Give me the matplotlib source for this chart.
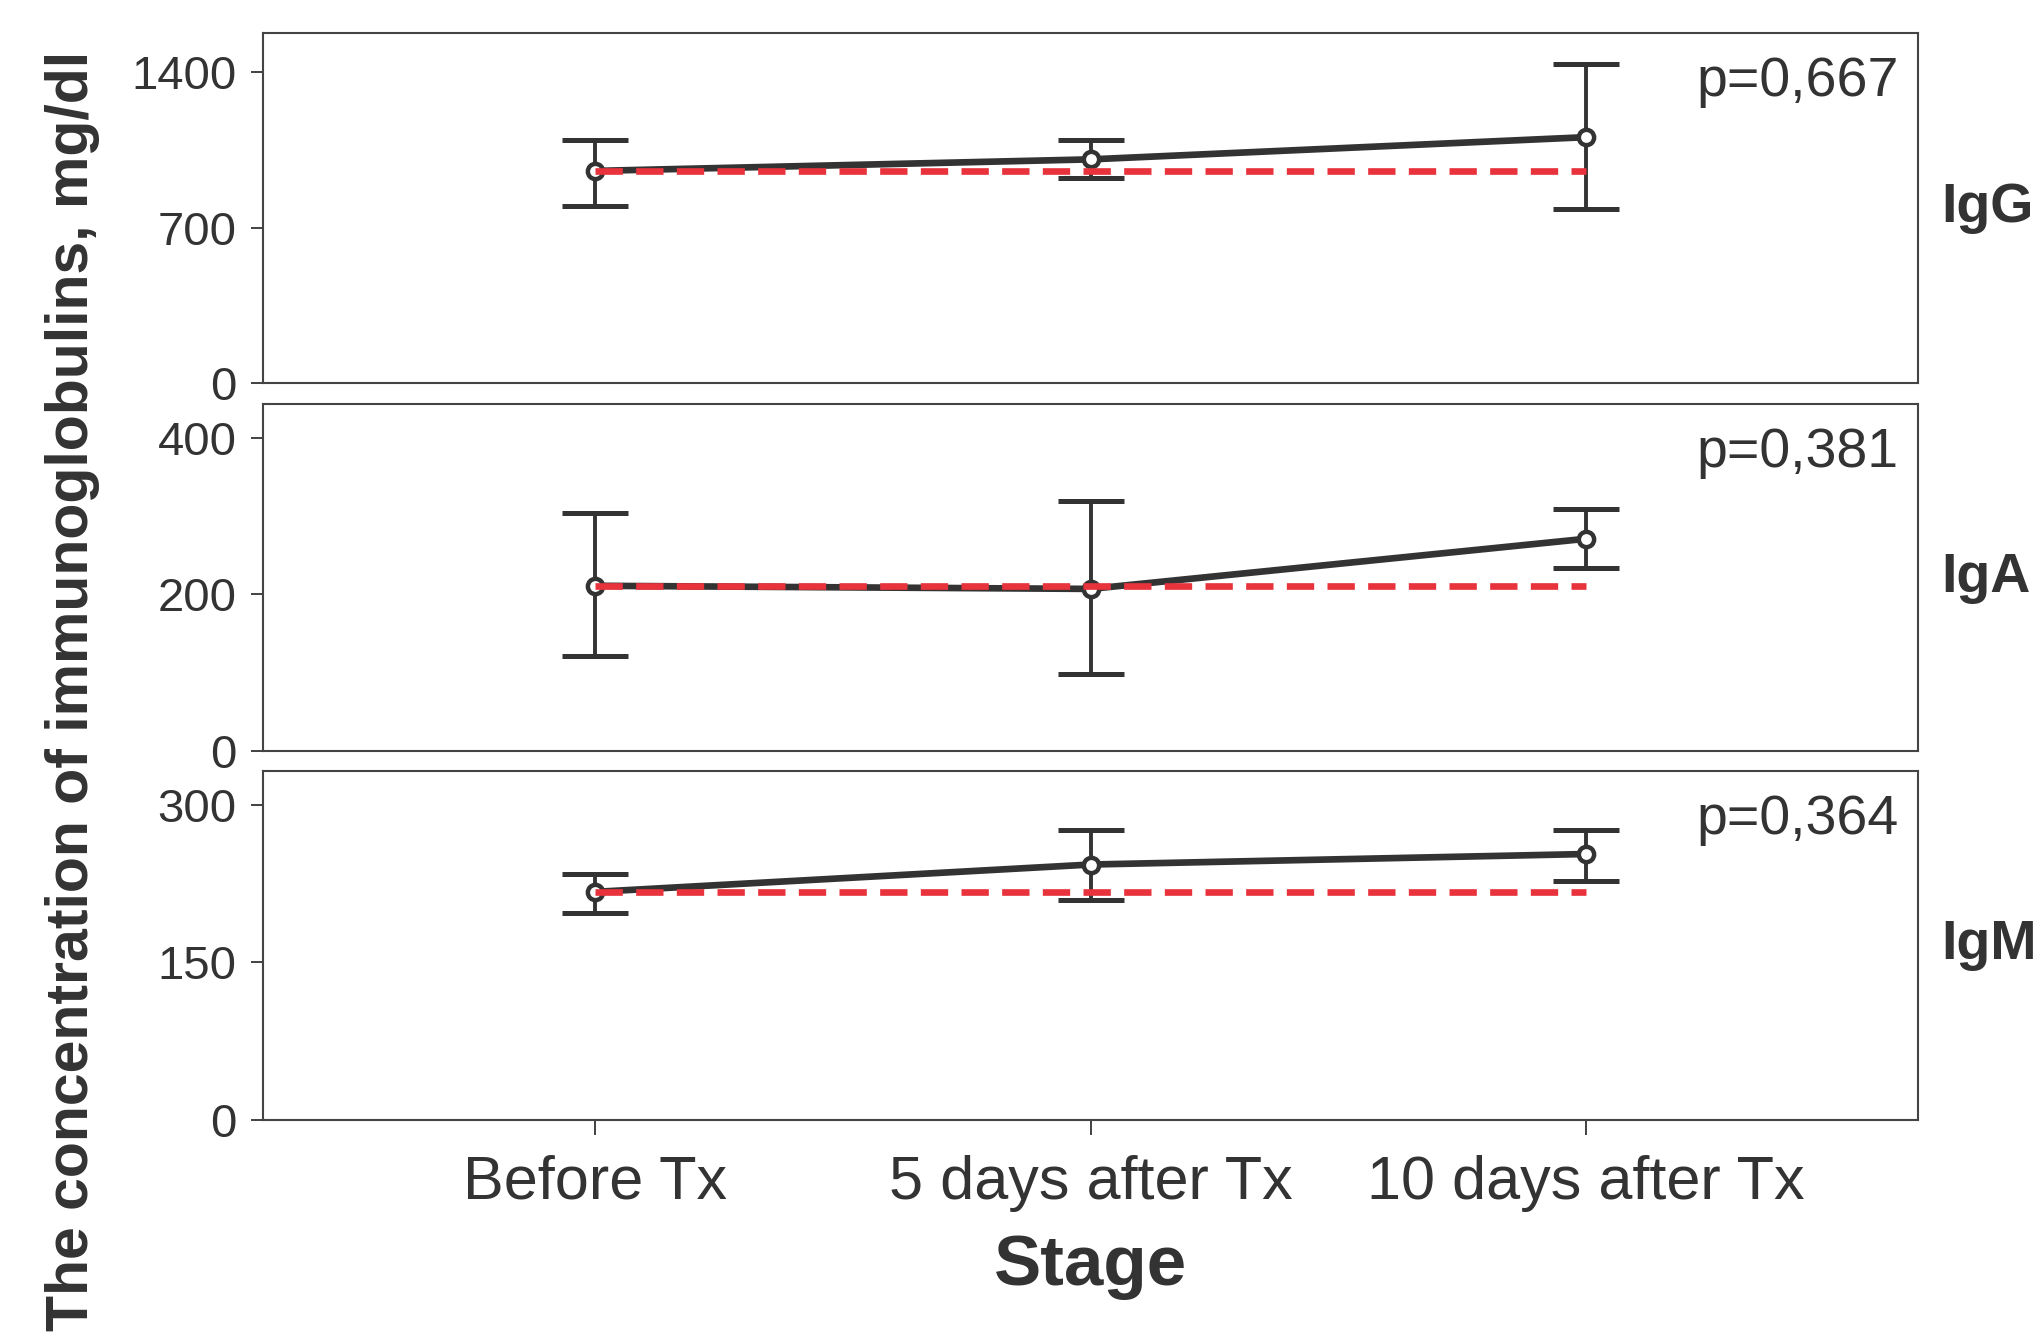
import matplotlib
matplotlib.use('Agg')
import matplotlib.pyplot as plt

plt.rcParams['font.family'] = ['Liberation Sans', 'DejaVu Sans']

stages = ["Before Tx", "5 days after Tx", "10 days after Tx"]
x = [1, 2, 3]

igg_mean = [955, 1007, 1107]
igg_upper = [1095, 1095, 1435]
igg_lower = [797, 925, 785]

iga_mean = [211, 207, 271]
iga_upper = [304, 319, 309]
iga_lower = [121, 98, 234]

igm_mean = [217, 243, 253]
igm_upper = [234, 276, 276]
igm_lower = [197, 209, 227]

names = ["IgG", "IgA", "IgM"]
p_values = ["p=0,667", "p=0,381", "p=0,364"]
yticks = [[0, 700, 1400], [0, 200, 400], [0, 150, 300]]
ylims = [1576, 443, 332]

dark = '#333333'
red = '#e8323c'

fig = plt.figure(figsize=(20.42, 13.38), dpi=100)

# panel boxes in figure fractions (left, bottom, width, height)
boxes = [
    [0.1288, 0.7138, 0.8105, 0.2615],
    [0.1288, 0.4387, 0.8105, 0.2593],
    [0.1288, 0.1629, 0.8105, 0.2609],
]

data = [
    (igg_mean, igg_upper, igg_lower),
    (iga_mean, iga_upper, iga_lower),
    (igm_mean, igm_upper, igm_lower),
]

for i in range(3):
    ax = fig.add_axes(boxes[i])
    mean, upper, lower = data[i]
    err_lo = [m - l for m, l in zip(mean, lower)]
    err_hi = [u - m for m, u in zip(mean, upper)]

    ax.errorbar(x, mean, yerr=[err_lo, err_hi], fmt='none', ecolor=dark,
                elinewidth=2.8, capsize=24, capthick=3.6, zorder=2)
    ax.plot(x, mean, color=dark, lw=4.8, zorder=3)
    ax.plot(x, mean, ls='none', marker='o', ms=11, mfc='white', mec=dark, mew=3.2, zorder=4)
    # baseline reference (value before Tx)
    ax.plot([x[0], x[-1]], [mean[0], mean[0]], color=red, lw=4.8, dashes=(4.1, 2.0), zorder=5)

    ax.set_xlim(0.33, 3.67)
    ax.set_ylim(0, ylims[i])
    ax.set_yticks(yticks[i])
    ax.tick_params(axis='y', direction='out', length=9, width=1.3, pad=10,
                   labelsize=34, colors=dark)
    for s in ax.spines.values():
        s.set_color('#444444')
        s.set_linewidth(1.5)

    if i < 2:
        ax.set_xticks([])
    else:
        ax.set_xticks(x)
        ax.set_xticklabels(stages)
        ax.tick_params(axis='x', direction='out', length=11, width=1.3, pad=14,
                       labelsize=44, colors=dark)
        ax.set_xlabel('Stage', fontsize=51, fontweight='bold', color=dark, labelpad=16)

    ax.annotate(p_values[i], xy=(1, 1), xycoords='axes fraction', xytext=(-14, -35),
                textcoords='offset points', ha='right', va='center', fontsize=40, color=dark)

    b = boxes[i]
    fig.text(0.9505, b[1] + b[3] / 2, names[i], ha='left', va='center',
             fontsize=40, fontweight='bold', color=dark)

fig.text(0.0353, 0.4836, 'The concentration of immunoglobulins, mg/dl', rotation=90,
         ha='center', va='center', fontsize=42.5, fontweight='bold', color=dark)

plt.savefig('out.png', dpi=100)
